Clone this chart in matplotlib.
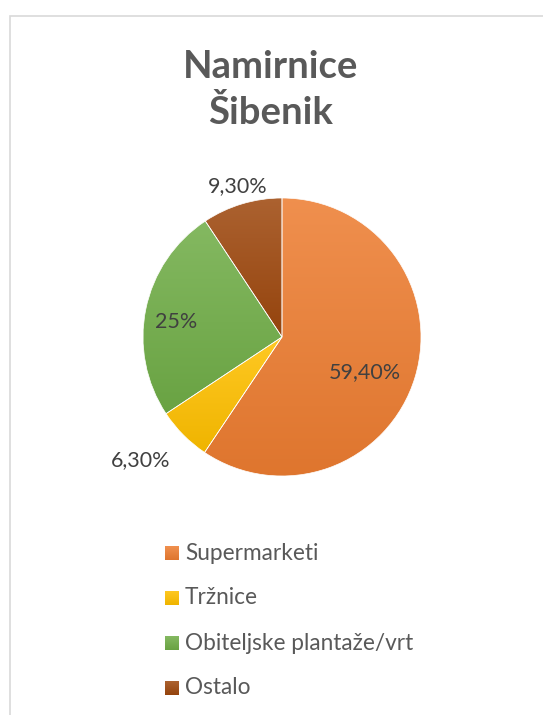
import numpy as np
import matplotlib
matplotlib.use('Agg')
import matplotlib.pyplot as plt
from matplotlib.patches import Rectangle
from matplotlib.colors import to_rgb

plt.rcParams['font.family'] = ['Lato', 'DejaVu Sans']

title = 'Namirnice\nŠibenik'
categories = ['Supermarketi', 'Tržnice', 'Obiteljske plantaže/vrt', 'Ostalo']
values = [59.4, 6.3, 25.0, 9.3]
value_labels = ['59,40%', '6,30%', '25%', '9,30%']
colors = ['#ED7D31', '#FFC000', '#70AD47', '#9E480E']
# where Excel put each data label (fraction of radius, angle nudge in degrees)
label_radius = [0.65, 1.35, 0.77, 1.13]
label_nudge = [-6.0, -3.7, 3.4, -0.5]

W, H = 543, 715
fig = plt.figure(figsize=(W / 100, H / 100), dpi=100)
fig.patch.set_facecolor('white')

# chart frame (only left and top edges are inside the image)
fig.patches.append(Rectangle((9.5 / W, -0.1), 1.2, 1.1 - 16.5 / H,
                             transform=fig.transFigure, fill=False,
                             edgecolor='#D9D9D9', linewidth=1.2))

fig.text(271 / W, 1 - 90 / H, title, ha='center', va='center',
         fontsize=27.5, fontweight='bold', color='#595959', linespacing=1.35)

cx, cy, r = 282, 337, 139
ax = fig.add_axes([(cx - r) / W, (H - cy - r) / H, 2 * r / W, 2 * r / H])
wedges, _ = ax.pie(values, startangle=90, counterclock=False,
                   colors=['none'] * len(values),
                   wedgeprops=dict(edgecolor='white', linewidth=0.5))
ax.axis('off')


def mix(c, other, t):
    c = np.array(to_rgb(c))
    return c * (1 - t) + np.array(other) * t


def gradient(c, n=64):
    top = mix(c, (1, 1, 1), 0.14)
    bot = mix(c, (0, 0, 0), 0.06)
    t = np.linspace(0, 1, n)[:, None]
    return (top * (1 - t) + bot * t)[:, None, :]


for w, c in zip(wedges, colors):
    verts = w.get_patch_transform().transform(w.get_path().vertices)
    x0, y0 = verts.min(axis=0)
    x1, y1 = verts.max(axis=0)
    img = ax.imshow(gradient(c), extent=(x0, x1, y0, y1), aspect='auto',
                    interpolation='bilinear', zorder=0.5)
    img.set_clip_path(w)
    w.set_zorder(1)

for w, lab, rr, dn in zip(wedges, value_labels, label_radius, label_nudge):
    ang = np.deg2rad((w.theta1 + w.theta2) / 2 + dn)
    ax.text(rr * np.cos(ang), rr * np.sin(ang), lab, ha='center', va='center',
            fontsize=15.5, color='#404040', zorder=3)
ax.set_xlim(-1, 1)
ax.set_ylim(-1, 1)

# legend, with the same gradient fill in the small squares
for i, (name, c) in enumerate(zip(categories, colors)):
    yc = 553 + 45 * i
    lax = fig.add_axes([165 / W, 1 - (yc + 7) / H, 14 / W, 14 / H])
    lax.imshow(gradient(c, 16), aspect='auto', interpolation='bilinear')
    lax.axis('off')
    fig.text(185 / W, 1 - yc / H, name, ha='left', va='center',
             fontsize=16.3, color='#595959')

fig.savefig('out.png', dpi=100)
